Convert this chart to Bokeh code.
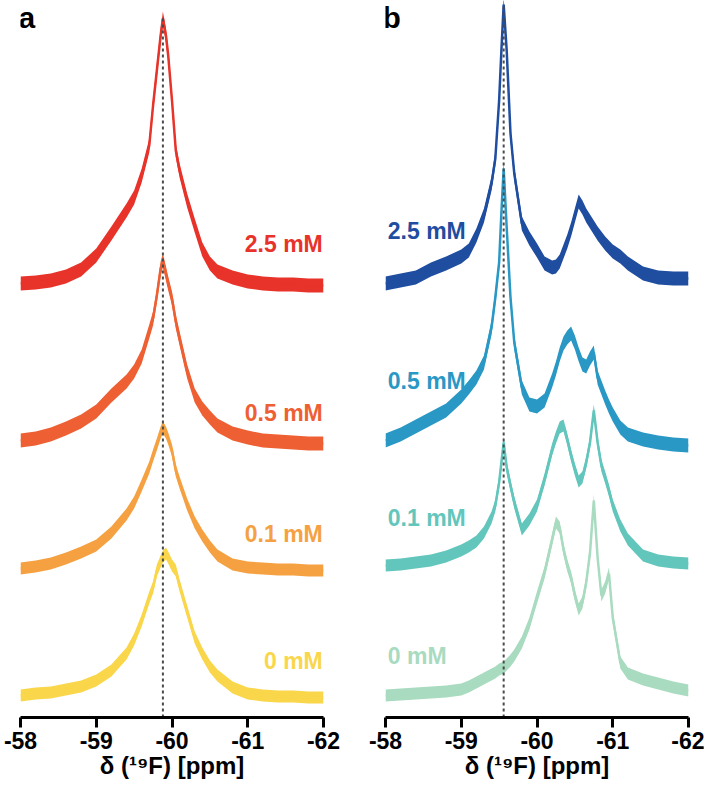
import numpy as np
from bokeh.plotting import figure
from bokeh.layouts import row
from bokeh.models import Range1d, FixedTicker, Label
from bokeh.core.properties import value
from bokeh.embed import file_html
from bokeh.resources import INLINE

# ---------------- data ----------------
ticks = [-58, -59, -60, -61, -62]
tick_labels = ["-58", "-59", "-60", "-61", "-62"]
axis_title = "δ (¹⁹F) [ppm]"

# panel a: chemical shift grid (ppm) and intensities above each trace's own baseline
ppm_a = [-58.0, -58.2, -58.4, -58.6, -58.8, -59.0, -59.2, -59.4, -59.5, -59.6,
         -59.7, -59.75, -59.8, -59.85, -59.88, -59.92, -59.95, -60.0, -60.05, -60.1,
         -60.2, -60.3, -60.4, -60.5, -60.6, -60.8, -61.0, -61.2, -61.4, -61.6,
         -61.8, -62.0]
a_2p5 = [2, 3, 5, 9, 16, 30, 52, 75, 88, 110, 140, 180, 215, 250, 267, 250, 230, 185, 135, 115,
         85, 60, 36, 22, 14, 8, 4, 2, 1, 1, 0, 0]
a_0p5 = [3, 5, 9, 15, 22, 32, 48, 62, 72, 87, 112, 125, 148, 175, 183, 170, 160, 145, 122, 105,
         72, 48, 35, 26, 18, 10, 6, 3, 2, 1, 0, 0]
a_0p1 = [2, 4, 7, 12, 18, 25, 38, 56, 68, 85, 103, 115, 126, 138, 143, 138, 132, 120, 100, 88,
         66, 48, 35, 24, 15, 6, 3, 2, 1, 1, 0, 0]
a_0 = [2, 4, 5, 8, 11, 17, 27, 44, 58, 77, 100, 110, 127, 136, 141, 144, 140, 132, 127, 112,
       86, 60, 44, 31, 22, 10, 4, 2, 1, 1, 0, 0]

# panel b
ppm_b = [-58.0, -58.2, -58.4, -58.6, -58.8, -59.0, -59.1, -59.2, -59.3, -59.4,
         -59.45, -59.5, -59.53, -59.56, -59.6, -59.65, -59.7, -59.8, -59.9, -60.0,
         -60.1, -60.2, -60.25, -60.3, -60.35, -60.4, -60.45, -60.5, -60.55, -60.6,
         -60.65, -60.7, -60.75, -60.8, -60.85, -60.9, -60.95, -61.0, -61.1, -61.2,
         -61.4, -61.6, -61.8, -62.0]
b_2p5 = [0, 3, 6, 14, 20, 27, 33, 48, 68, 100, 125, 183, 233, 279, 233, 150, 110, 60, 45, 33,
         20, 16, 17, 22, 32, 42, 54, 68, 82, 76, 68, 62, 56, 50, 45, 40, 36, 32, 27, 20,
         10, 6, 5, 5]
b_0p5 = [2, 8, 16, 24, 32, 46, 55, 65, 80, 115, 145, 180, 230, 274, 215, 145, 100, 55, 38, 36,
         42, 62, 74, 88, 99, 105, 109, 100, 88, 78, 76, 84, 90, 65, 55, 45, 36, 28, 15, 8,
         3, 0, -2, -3]
b_0p1 = [2, 3, 5, 7, 11, 17, 21, 26, 35, 50, 62, 85, 105, 125, 100, 82, 65, 38, 48, 62,
         88, 118, 130, 140, 142, 128, 112, 98, 86, 90, 105, 125, 157, 125, 102, 90, 77, 62, 42, 28,
         12, 7, 5, 4]
b_0 = [2, 3, 4, 5, 6, 8, 11, 15, 19, 23, 25, 28, 29, 30, 33, 37, 42, 55, 74, 100,
       125, 158, 175, 170, 148, 132, 120, 102, 88, 95, 115, 145, 197, 140, 102, 110, 124, 80, 35, 24,
       18, 14, 10, 7]

concs = ["0 mM", "0.1 mM", "0.5 mM", "2.5 mM"]
# vertical stacking offsets of each trace (same order as concs)
offsets_a = [20, 147, 274, 432]
offsets_b = [20, 150, 275, 434]
noise_a = [6, 6, 7, 7]
noise_b = [6, 6, 7, 7]
# reference shift marked by the dotted line
ref_a = -59.88
ref_b = -59.56
ref_top_a = 699
ref_top_b = 712

colors_a = ["#f9d64a", "#f5a142", "#ee6033", "#e8332a"]
colors_b = ["#a8dbbf", "#62c6bc", "#2a98c5", "#1f4d9f"]

label_y_a = [57, 184, 305, 474]
label_y_b = [62, 200, 337, 487]

FONT = "Liberation Sans"
H = 785
YTOP = 717          # frame height in px == data units
BOTTOM = H - YTOP


def make_panel(width, bl, br, ppm, series, offsets, noise, colors, label_x, label_align,
               label_y, ref, ref_top, letter, letter_off):
    p = figure(width=width, height=H, x_range=Range1d(-58, -62), y_range=Range1d(0, YTOP),
               output_backend="svg", toolbar_location=None,
               min_border_left=bl, min_border_right=br, min_border_top=0, min_border_bottom=BOTTOM)
    p.yaxis.visible = False
    p.xgrid.visible = False
    p.ygrid.visible = False
    p.outline_line_color = None
    p.background_fill_color = None
    ax = p.xaxis[0]
    ax.ticker = FixedTicker(ticks=ticks)
    ax.major_label_overrides = {t: l for t, l in zip(ticks, tick_labels)}
    ax.axis_line_width = 3
    ax.axis_line_color = "black"
    ax.major_tick_line_width = 3
    ax.major_tick_line_color = "black"
    ax.major_tick_out = 10
    ax.major_tick_in = 0
    ax.minor_tick_line_color = None
    ax.major_label_text_font = FONT
    ax.major_label_text_font_size = "23px"
    ax.major_label_text_font_style = "bold"
    ax.major_label_text_color = "black"
    ax.major_label_standoff = 4
    ax.axis_label = axis_title
    ax.axis_label_text_font = FONT
    ax.axis_label_text_font_size = "24px"
    ax.axis_label_text_font_style = "bold"
    ax.axis_label_text_color = "black"
    ax.axis_label_standoff = 0

    x = np.array(ppm, dtype=float)
    for s, off, nz, c in zip(series, offsets, noise, colors):
        y = np.array(s, dtype=float) + off
        p.varea(x=x, y1=y - nz, y2=y + nz, fill_color=c)
        p.line(x, y, line_color=c, line_width=2.5)

    p.line([ref, ref], [0, ref_top], line_color="#4a4a4a", line_width=2, line_dash="3 3")

    p.text(x=[label_x] * len(concs), y=label_y, text=concs, text_color=colors,
           text_font=value(FONT), text_font_size="23px", text_font_style="bold",
           text_align=label_align, text_baseline="middle")

    p.add_layout(Label(x=-58.0, y=700, text=letter, x_offset=letter_off, text_font=FONT,
                       text_font_size="30px", text_font_style="bold", text_color="black",
                       text_baseline="alphabetic"))
    return p


pa = make_panel(360, 20, 37, ppm_a, [a_0, a_0p1, a_0p5, a_2p5], offsets_a, noise_a, colors_a,
                -61.99, "right", label_y_a, ref_a, ref_top_a, "a", -2)
pb = make_panel(344, 25, 16, ppm_b, [b_0, b_0p1, b_0p5, b_2p5], offsets_b, noise_b, colors_b,
                -58.03, "left", label_y_b, ref_b, ref_top_b, "b", -3)

p = row(pa, pb)
open("out.html", "w").write(file_html(p, INLINE))
